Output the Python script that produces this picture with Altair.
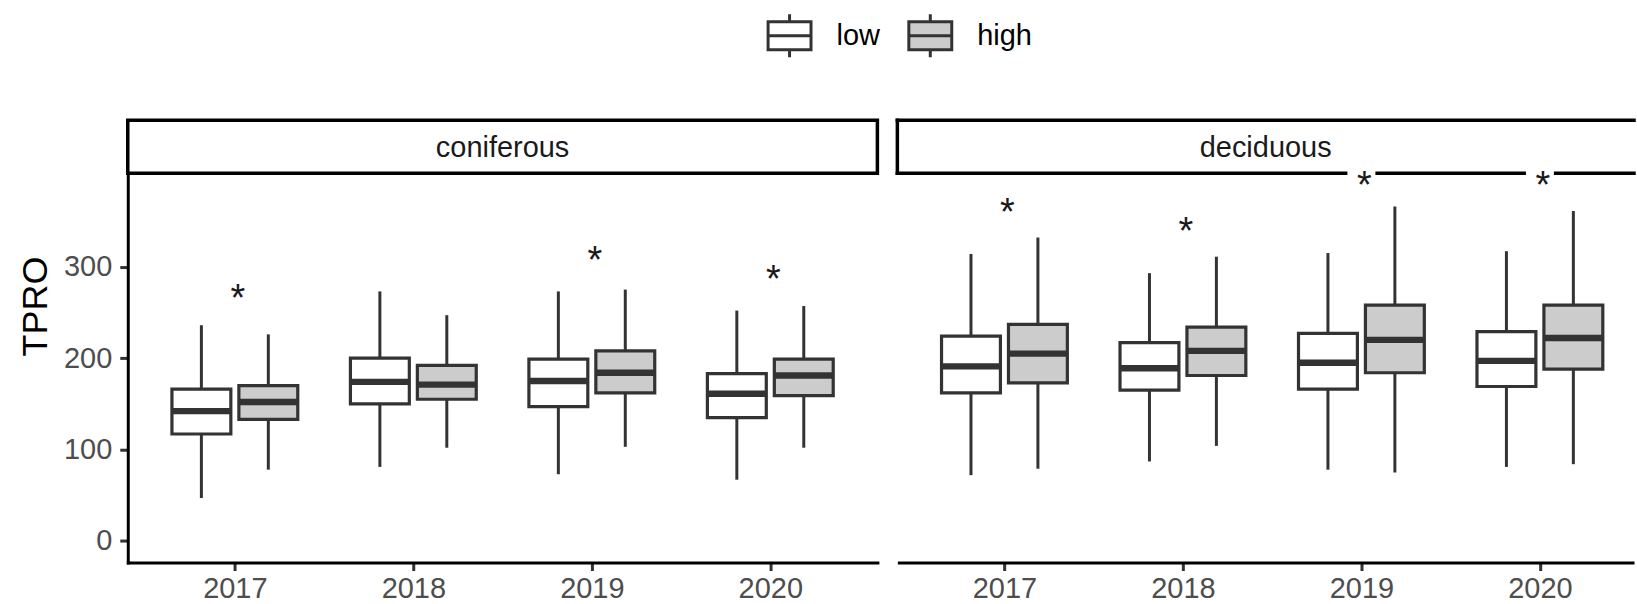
import altair as alt
import pandas as pd

FONT = "Liberation Sans"

forests = ["coniferous", "deciduous"]
years = ["2017", "2018", "2019", "2020"]
levels = ["low", "high"]

# per year: lower whisker, Q1, median, Q3, upper whisker
coniferous_low = [[47, 117, 142, 166, 236], [81, 150, 174, 200, 273],
                  [73, 147, 175, 199, 273], [67, 135, 161, 183, 252]]
coniferous_high = [[78, 133, 152, 170, 226], [102, 155, 171, 192, 247],
                   [103, 162, 184, 208, 275], [102, 159, 181, 199, 257]]
deciduous_low = [[72, 162, 191, 224, 314], [87, 165, 189, 217, 293],
                 [78, 166, 195, 227, 315], [81, 169, 197, 229, 317]]
deciduous_high = [[79, 173, 205, 237, 332], [104, 181, 208, 234, 311],
                  [75, 184, 220, 258, 366], [84, 188, 222, 258, 361]]

# significance markers: year and height of the asterisk
coniferous_sig_years = ["2017", "2019", "2020"]
coniferous_sig_y = [271, 313, 292]
deciduous_sig_years = ["2017", "2018", "2019", "2020"]
deciduous_sig_y = [365, 344, 395, 395]

y_ticks = [0, 100, 200, 300]

series = {
    ("coniferous", "low"): coniferous_low,
    ("coniferous", "high"): coniferous_high,
    ("deciduous", "low"): deciduous_low,
    ("deciduous", "high"): deciduous_high,
}
rows = []
for (forest, level), stats in series.items():
    for i, (lo, q1, med, q3, hi) in enumerate(stats):
        rows.append(dict(forest=forest, year=years[i], idx=i + 1, level=level,
                         lo=lo, q1=q1, med=med, q3=q3, hi=hi))
boxes = pd.DataFrame(rows)

sig = {
    "coniferous": pd.DataFrame({"year": coniferous_sig_years, "sig": coniferous_sig_y}),
    "deciduous": pd.DataFrame({"year": deciduous_sig_years, "sig": deciduous_sig_y}),
}
for d in sig.values():
    d["idx"] = [years.index(y) + 1 for y in d["year"]]
    d["label"] = "*"

DODGE = 0.1875   # offset of each box from the year centre
HALF = 0.165     # half box width
UNIT = 178.81    # pixels per year step
STRIP = 53       # strip height

y_scale = alt.Scale(domain=[-23.6, 402.3], nice=False, zero=False)
year_expr = "[" + ",".join(f"'{y}'" for y in years) + "][datum.value - 1]"

legend = alt.Legend(
    title=None, orient="none", legendX=640, legendY=-161, direction="horizontal",
    symbolType="M-1,-0.65H1V0.65H-1Z M-1,0H1 M0,-0.65V-1 M0,0.65V1",
    symbolSize=1849, symbolStrokeColor="#333333", symbolStrokeWidth=3,
    labelFont=FONT, labelFontSize=29, labelColor="black", labelOffset=24,
    columnPadding=22, padding=0,
)
fill = alt.Fill("level:N", scale=alt.Scale(domain=levels, range=["#FFFFFF", "#CCCCCC"]),
                legend=legend)


def panel(forest, width, first):
    x_max = 0.4 + width / UNIT
    x_axis = alt.Axis(values=[1, 2, 3, 4], labelExpr=year_expr, title=None, grid=False,
                      domainColor="black", domainWidth=3,
                      domainCap="square" if first else "butt",
                      tickColor="#333333", tickWidth=3, tickSize=8, labelPadding=4,
                      labelFont=FONT, labelFontSize=29, labelColor="#4D4D4D")
    if first:
        y_axis = alt.Axis(values=y_ticks, title="TPRO", grid=False,
                          domainColor="black", domainWidth=3, domainCap="square",
                          tickColor="#333333", tickWidth=3, tickSize=8, labelPadding=8,
                          labelFont=FONT, labelFontSize=29, labelColor="#4D4D4D",
                          titleFont=FONT, titleFontSize=36, titleFontWeight="normal",
                          titleColor="black", titlePadding=9, titleY=133)
    else:
        y_axis = None
    xs = alt.Scale(domain=[0.4, x_max], nice=False, zero=False)

    def X(f):
        return alt.X(f, type="quantitative", scale=xs, axis=x_axis)

    def Y(f):
        return alt.Y(f, type="quantitative", scale=y_scale, axis=y_axis)

    base = alt.Chart(boxes[boxes.forest == forest]).transform_calculate(
        pos=f"datum.idx + (datum.level == 'low' ? -{DODGE} : {DODGE})"
    ).transform_calculate(
        left=f"datum.pos - {HALF}", right=f"datum.pos + {HALF}"
    )

    whiskers = base.mark_rule(color="#333333", strokeWidth=3).encode(
        x=X("pos"), y=Y("lo"), y2="hi")
    rects = base.mark_rect(stroke="#333333", strokeWidth=3.2).encode(
        x=X("left"), x2="right", y=Y("q1"), y2="q3", fill=fill)
    medians = base.mark_rule(color="#333333", strokeWidth=6.4).encode(
        x=X("left"), x2="right", y=Y("med"))

    marks = alt.Chart(sig[forest])
    star_bg = marks.mark_point(shape="square", filled=True, fill="white", opacity=1,
                               size=784, strokeWidth=0, dx=3).encode(x=X("idx"), y=Y("sig"))
    stars = marks.mark_text(font=FONT, fontSize=38, baseline="alphabetic", dy=18, dx=3,
                            color="#1A1A1A").encode(x=X("idx"), y=Y("sig"), text="label:N")

    head = alt.Chart(pd.DataFrame({"forest": [forest]}))
    label = head.mark_text(font=FONT, fontSize=29, color="#1A1A1A", baseline="middle").encode(
        text="forest:N", x=alt.value(width / 2), y=alt.value(-25))
    if first:
        strip = [head.mark_rect(fill="white", stroke="black", strokeWidth=3.5).encode(
            x=alt.value(0), x2=alt.value(width), y=alt.value(-STRIP), y2=alt.value(0))]
    else:
        edge = head.mark_rule(color="black", strokeWidth=3.5, strokeCap="square")
        strip = [
            edge.encode(x=alt.value(0), x2=alt.value(width), y=alt.value(-STRIP)),
            edge.encode(x=alt.value(0), x2=alt.value(width), y=alt.value(0)),
            edge.encode(x=alt.value(0), y=alt.value(-STRIP), y2=alt.value(0)),
        ]
    return alt.layer(*strip, label, whiskers, rects, medians, star_bg, stars).properties(
        width=width, height=390)


chart = alt.hconcat(
    panel("coniferous", 751, True),
    panel("deciduous", 738, False),
    spacing=20, bounds="flush",
).properties(
    padding={"left": 17, "top": 12, "right": 0, "bottom": 0},
    background="white",
).configure_view(stroke=None)

chart.save("out.html", embed_options={"renderer": "svg", "actions": False})
